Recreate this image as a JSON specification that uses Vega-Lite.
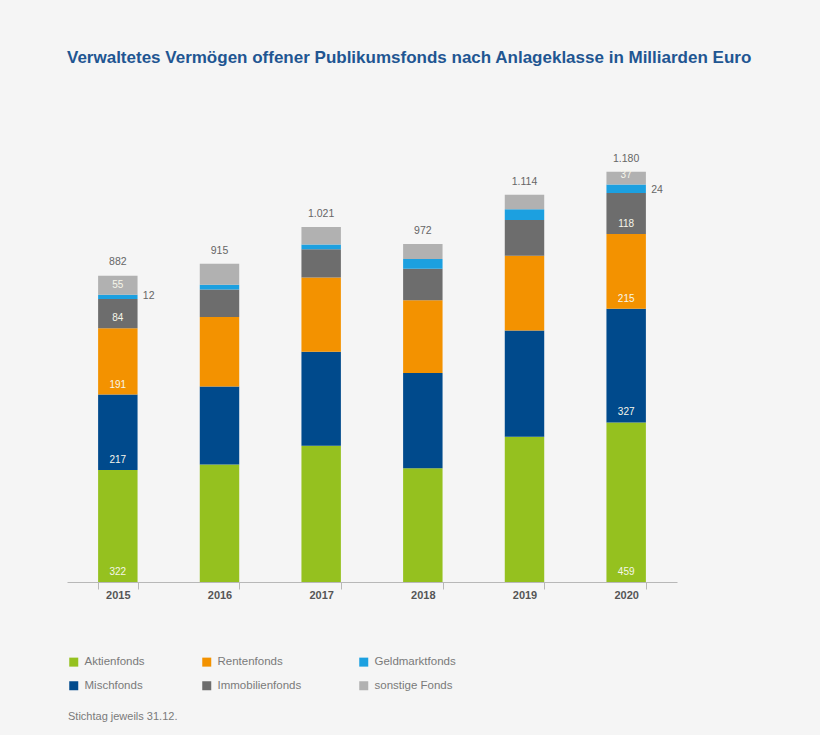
{
  "$schema": "https://vega.github.io/schema/vega-lite/v6.json",
  "autosize": "none",
  "width": 610,
  "height": 452,
  "padding": {"left": 67, "top": 130, "right": 143, "bottom": 153},
  "background": "#f5f5f5",
  "title": {
    "text": "Verwaltetes Vermögen offener Publikumsfonds nach Anlageklasse in Milliarden Euro",
    "anchor": "start",
    "dx": 0,
    "offset": 63,
    "font": "Liberation Sans",
    "fontSize": 17,
    "fontWeight": "bold",
    "color": "#1f5692"
  },
  "config": {
    "view": {"stroke": null},
    "font": "Liberation Sans"
  },
  "datasets": {
    "funds": [
      {"year": "2015", "fund": "Aktienfonds", "value": 322, "order": 1},
      {"year": "2015", "fund": "Mischfonds", "value": 217, "order": 2},
      {"year": "2015", "fund": "Rentenfonds", "value": 191, "order": 3},
      {"year": "2015", "fund": "Immobilienfonds", "value": 84, "order": 4},
      {"year": "2015", "fund": "Geldmarktfonds", "value": 12, "order": 5},
      {"year": "2015", "fund": "sonstige Fonds", "value": 55, "order": 6},
      {"year": "2016", "fund": "Aktienfonds", "value": 338, "order": 1},
      {"year": "2016", "fund": "Mischfonds", "value": 224, "order": 2},
      {"year": "2016", "fund": "Rentenfonds", "value": 200, "order": 3},
      {"year": "2016", "fund": "Immobilienfonds", "value": 79, "order": 4},
      {"year": "2016", "fund": "Geldmarktfonds", "value": 14, "order": 5},
      {"year": "2016", "fund": "sonstige Fonds", "value": 60, "order": 6},
      {"year": "2017", "fund": "Aktienfonds", "value": 392, "order": 1},
      {"year": "2017", "fund": "Mischfonds", "value": 270, "order": 2},
      {"year": "2017", "fund": "Rentenfonds", "value": 214, "order": 3},
      {"year": "2017", "fund": "Immobilienfonds", "value": 81, "order": 4},
      {"year": "2017", "fund": "Geldmarktfonds", "value": 14, "order": 5},
      {"year": "2017", "fund": "sonstige Fonds", "value": 50, "order": 6},
      {"year": "2018", "fund": "Aktienfonds", "value": 327, "order": 1},
      {"year": "2018", "fund": "Mischfonds", "value": 274, "order": 2},
      {"year": "2018", "fund": "Rentenfonds", "value": 209, "order": 3},
      {"year": "2018", "fund": "Immobilienfonds", "value": 91, "order": 4},
      {"year": "2018", "fund": "Geldmarktfonds", "value": 28, "order": 5},
      {"year": "2018", "fund": "sonstige Fonds", "value": 43, "order": 6},
      {"year": "2019", "fund": "Aktienfonds", "value": 418, "order": 1},
      {"year": "2019", "fund": "Mischfonds", "value": 305, "order": 2},
      {"year": "2019", "fund": "Rentenfonds", "value": 215, "order": 3},
      {"year": "2019", "fund": "Immobilienfonds", "value": 103, "order": 4},
      {"year": "2019", "fund": "Geldmarktfonds", "value": 31, "order": 5},
      {"year": "2019", "fund": "sonstige Fonds", "value": 42, "order": 6},
      {"year": "2020", "fund": "Aktienfonds", "value": 459, "order": 1},
      {"year": "2020", "fund": "Mischfonds", "value": 327, "order": 2},
      {"year": "2020", "fund": "Rentenfonds", "value": 215, "order": 3},
      {"year": "2020", "fund": "Immobilienfonds", "value": 118, "order": 4},
      {"year": "2020", "fund": "Geldmarktfonds", "value": 24, "order": 5},
      {"year": "2020", "fund": "sonstige Fonds", "value": 37, "order": 6}
    ],
    "totals": [
      {"year": "2015", "total": 882, "label": "882"},
      {"year": "2016", "total": 915, "label": "915"},
      {"year": "2017", "total": 1021, "label": "1.021"},
      {"year": "2018", "total": 972, "label": "972"},
      {"year": "2019", "total": 1114, "label": "1.114"},
      {"year": "2020", "total": 1180, "label": "1.180"}
    ]
  },
  "layer": [
    {
      "data": {"name": "funds"},
      "mark": {"type": "bar"},
      "encoding": {
        "x": {
          "field": "year", "type": "nominal", "title": null,
          "scale": {"paddingInner": 0.612, "paddingOuter": 0.306},
          "axis": {
            "labelAngle": 0, "tickBand": "extent", "domainColor": "#b8b8b8",
            "tickColor": "#b8b8b8", "tickSize": 7, "labelFontWeight": "bold",
            "labelFontSize": 11, "labelColor": "#555555", "labelPadding": 0
          }
        },
        "y": {
          "field": "value", "type": "quantitative", "stack": "zero",
          "scale": {"domain": [0, 1300]}, "axis": null
        },
        "order": {"field": "order", "type": "quantitative"},
        "color": {
          "field": "fund", "type": "nominal",
          "scale": {
            "domain": ["Aktienfonds", "Rentenfonds", "Geldmarktfonds", "Mischfonds", "Immobilienfonds", "sonstige Fonds"],
            "range": ["#95c11f", "#f39200", "#1ca0e0", "#004a8c", "#6d6d6d", "#b1b1b1"]
          },
          "legend": {
            "orient": "none", "legendX": 1, "legendY": 526,
            "direction": "horizontal", "columns": 3, "columnPadding": 56, "rowPadding": 11,
            "symbolType": "square", "symbolSize": 81, "symbolStrokeWidth": 0, "symbolOpacity": 1,
            "labelOffset": 5, "labelFontSize": 11.5, "labelColor": "#7a7a7a",
            "title": "Stichtag jeweils 31.12.", "titleOrient": "bottom", "titleAnchor": "start",
            "titlePadding": 20, "titleFontWeight": "normal", "titleFontSize": 11,
            "titleColor": "#7a7a7a", "titleLimit": 400
          }
        }
      }
    },
    {
      "data": {"name": "funds"},
      "transform": [
        {"stack": "value", "groupby": ["year"], "sort": [{"field": "order"}], "as": ["y0", "y1"]},
        {"filter": {"field": "year", "oneOf": ["2015", "2020"]}},
        {"filter": "datum.fund !== 'Geldmarktfonds'"}
      ],
      "mark": {"type": "text", "baseline": "alphabetic", "dy": -7, "fontSize": 10, "color": "#f6f6ea"},
      "encoding": {
        "x": {"field": "year", "type": "nominal"},
        "y": {"field": "y0", "type": "quantitative"},
        "text": {"field": "value", "type": "quantitative"}
      }
    },
    {
      "data": {"name": "funds"},
      "transform": [
        {"stack": "value", "groupby": ["year"], "sort": [{"field": "order"}], "as": ["y0", "y1"]},
        {"filter": {"field": "year", "oneOf": ["2015", "2020"]}},
        {"filter": "datum.fund === 'Geldmarktfonds'"}
      ],
      "mark": {"type": "text", "baseline": "middle", "align": "left", "dx": 25, "dy": -3, "fontSize": 10.5, "color": "#666666"},
      "encoding": {
        "x": {"field": "year", "type": "nominal"},
        "y": {"field": "y0", "type": "quantitative"},
        "text": {"field": "value", "type": "quantitative"}
      }
    },
    {
      "data": {"name": "totals"},
      "mark": {"type": "text", "baseline": "bottom", "dy": -8, "fontSize": 10.5, "color": "#666666"},
      "encoding": {
        "x": {"field": "year", "type": "nominal"},
        "y": {"field": "total", "type": "quantitative"},
        "text": {"field": "label", "type": "nominal"}
      }
    }
  ]
}
